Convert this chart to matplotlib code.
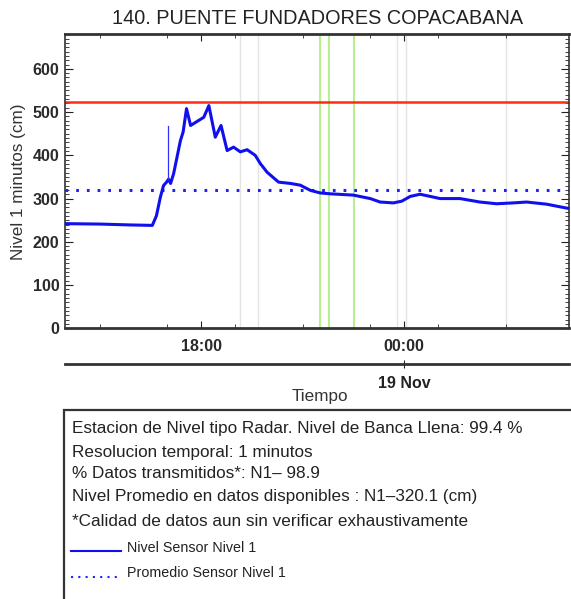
import numpy as np
import matplotlib
matplotlib.use("Agg")
import matplotlib.pyplot as plt
import matplotlib.dates as mdates
from matplotlib.patches import Rectangle
from datetime import datetime, timedelta

plt.rcParams['font.family'] = ['Liberation Sans', 'DejaVu Sans']

# horas desde 18 Nov 00:00
t_nivel = [14.00, 15.03, 15.92, 16.56, 16.68, 16.80, 16.89, 16.98, 17.04, 17.10,
           17.19, 17.39, 17.47, 17.57, 17.69, 18.08, 18.23, 18.42, 18.59, 18.77,
           18.96, 19.16, 19.36, 19.60, 19.75, 19.95, 20.29, 20.64, 20.93, 21.23,
           21.52, 21.82, 22.50, 23.00, 23.29, 23.68, 23.93, 24.18, 24.47, 24.77,
           25.06, 25.65, 26.24, 26.73, 27.22, 27.62, 28.21, 28.60, 28.87]
nivel = [242, 241, 239, 238, 260, 304, 330, 338, 345, 335,
         358, 434, 454, 508, 469, 488, 515, 442, 469, 411,
         419, 408, 413, 400, 381, 361, 338, 335, 331, 319,
         313, 311, 308, 300, 292, 290, 294, 305, 310, 305,
         300, 300, 292, 288, 290, 292, 287, 281, 277]
t_pico = [17.03, 17.03]
pico = [345, 468]

promedio = 320.1
banca_llena = 523.0
t_gris = [19.16, 19.69, 23.79, 24.06, 27.01]
t_verde = [21.52, 21.79, 22.53]
t_inicio, t_fin = 13.98, 28.87

base = datetime(2021, 11, 18)
def to_dt(h):
    return [base + timedelta(hours=x) for x in h]

W, H = 571, 599
fig = plt.figure(figsize=(W / 100, H / 100), dpi=100)
ax = fig.add_axes([65 / W, 1 - 328.3 / H, 504 / W, 294 / H])

for tg in to_dt(t_gris):
    ax.axvline(tg, color='#e4e4e4', lw=1, zorder=1)
for tv in to_dt(t_verde):
    ax.axvline(tv, color='#b8f090', lw=1.5, zorder=1)

ax.axhline(banca_llena, color='#ff2a10', lw=1.8, zorder=2)
ax.axhline(promedio, color='#2020ff', lw=2.2, ls=(0, (0.9, 2.6)), zorder=2)
ax.plot(to_dt(t_nivel), nivel, color='#1010ee', lw=2.2, zorder=3)
ax.plot(to_dt(t_pico), pico, color='#3030ff', lw=0.9, zorder=3)

ax.set_xlim(to_dt([t_inicio, t_fin]))
ax.set_ylim(0, banca_llena * 1.3)
ax.xaxis.set_major_locator(mdates.HourLocator(byhour=[0, 6, 12, 18]))
ax.xaxis.set_minor_locator(mdates.HourLocator(interval=2))
ax.xaxis.set_major_formatter(mdates.DateFormatter('%H:%M'))
ax.set_yticks(np.arange(0, 601, 100))
ax.set_yticks(np.arange(0, 680, 10), minor=True)
ax.tick_params(which='both', direction='in', top=True, right=True, colors='#222222')
ax.tick_params(axis='x', which='major', length=5, pad=8, labelsize=11.5)
ax.tick_params(axis='x', which='minor', length=3)
ax.tick_params(axis='y', which='major', length=6, pad=4, labelsize=11.5)
ax.tick_params(axis='y', which='minor', length=3)
for lab in ax.get_xticklabels() + ax.get_yticklabels():
    lab.set_fontweight('bold')
    lab.set_color('#2a2a2a')
for s in ax.spines.values():
    s.set_color('#333333')
    s.set_linewidth(1.2)
ax.spines['top'].set_linewidth(2)
ax.spines['bottom'].set_linewidth(2)

ax.set_ylabel('Nivel 1 minutos (cm)', fontsize=12.3, color='#333333', labelpad=5)
fig.text(318 / W, 1 - 18 / H, '140. PUENTE FUNDADORES COPACABANA', ha='center',
         va='center', fontsize=14.3, color='#222222')

# eje de fechas
ax2 = fig.add_axes([65 / W, 1 - 364 / H, 504 / W, 0.0001])
ax2.set_xlim(ax.get_xlim())
ax2.set_yticks([])
for k in ['top', 'left', 'right']:
    ax2.spines[k].set_visible(False)
ax2.spines['bottom'].set_color('#333333')
ax2.spines['bottom'].set_linewidth(2)
ax2.xaxis.set_major_locator(mdates.DayLocator())
ax2.xaxis.set_major_formatter(mdates.DateFormatter('%d %b'))
ax2.tick_params(axis='x', direction='inout', length=6, pad=6, labelsize=11.5, colors='#222222')
for lab in ax2.get_xticklabels():
    lab.set_fontweight('bold')
    lab.set_fontsize(11.5)
fig.text(320 / W, 1 - 397 / H, 'Tiempo', ha='center', va='center', fontsize=12.3, color='#333333')

# cuadro informativo
fig.patches.append(Rectangle((64 / W, -0.05), 0.95, 1.05 - 410 / H, transform=fig.transFigure,
                             fill=False, edgecolor='#333333', lw=1.6))
lineas = ['Estacion de Nivel tipo Radar. Nivel de Banca Llena: 99.4 %',
          'Resolucion temporal: 1 minutos',
          '% Datos transmitidos*: N1\u2013 98.9',
          'Nivel Promedio en datos disponibles : N1\u2013320.1 (cm)',
          '*Calidad de datos aun sin verificar exhaustivamente']
ys = [428, 452, 474, 497, 521]
for y, s in zip(ys, lineas):
    fig.text(72 / W, 1 - y / H, s, ha='left', va='center', fontsize=12.3, color='#222222')
fig.add_artist(plt.Line2D([71 / W, 121 / W], [1 - 551 / H] * 2, color='#1010ee', lw=1.5))
fig.text(127 / W, 1 - 548 / H, 'Nivel Sensor Nivel 1', ha='left', va='center', fontsize=10.3, color='#222222')
fig.add_artist(plt.Line2D([71 / W, 121 / W], [1 - 577 / H] * 2, color='#2020ff', lw=1.5, ls=(0, (1, 2.5))))
fig.text(127 / W, 1 - 573 / H, 'Promedio Sensor Nivel 1', ha='left', va='center', fontsize=10.3, color='#222222')

fig.savefig('out.png', dpi=100)
